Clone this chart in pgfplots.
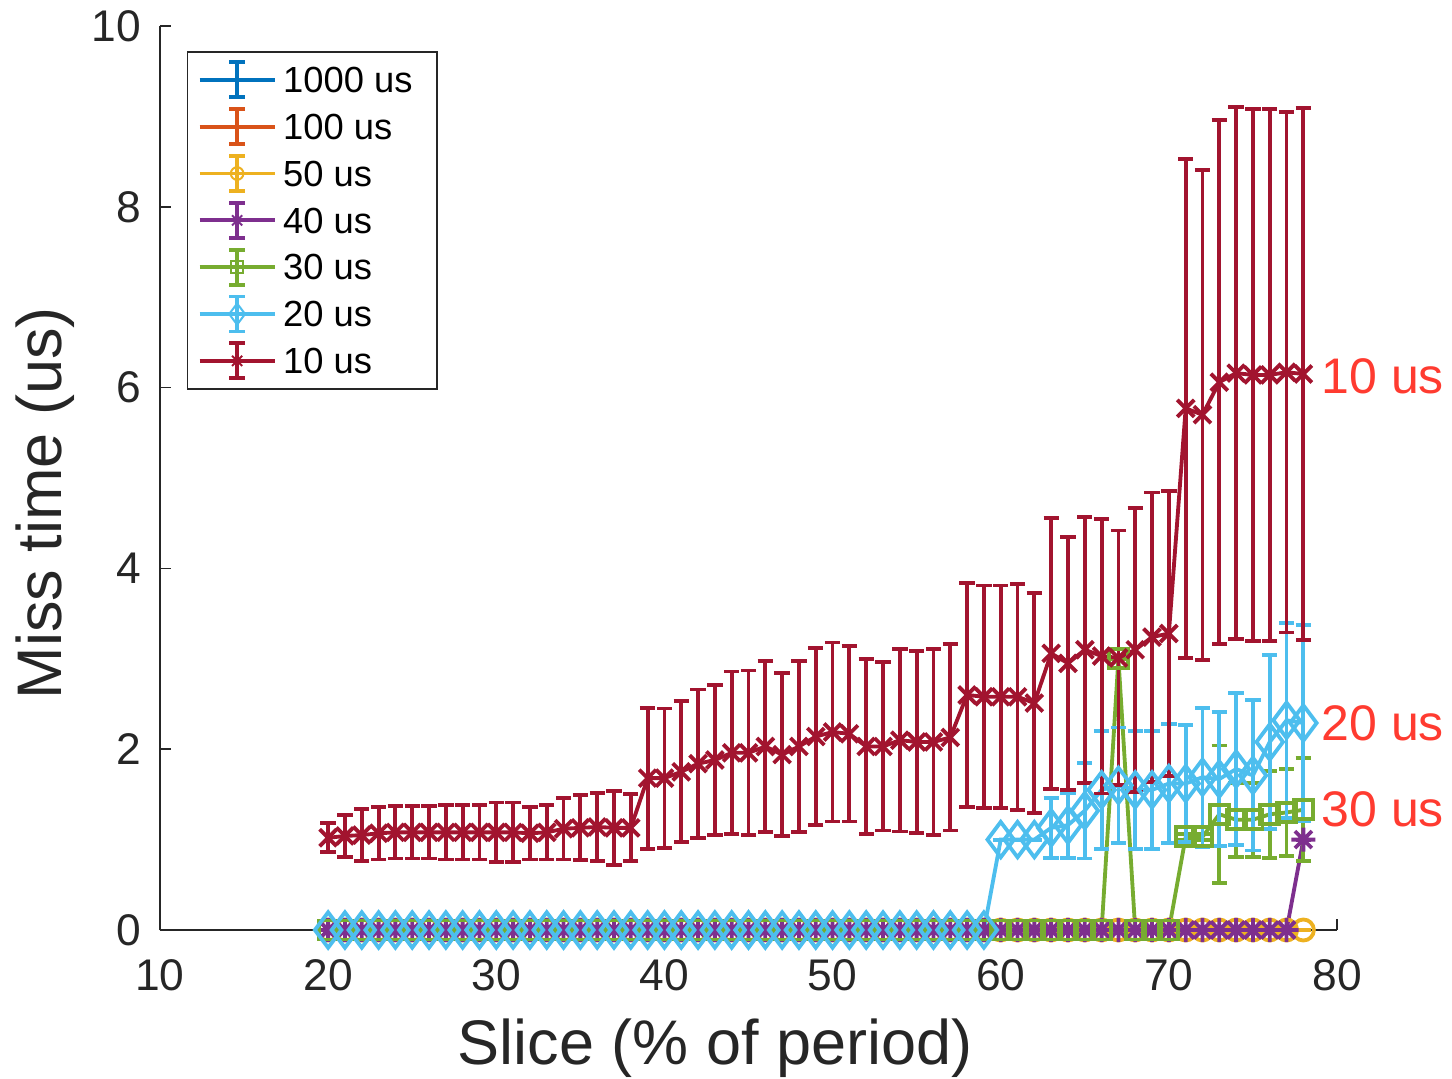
\documentclass[border=0pt]{standalone}
\usepackage{fontspec}
\setmainfont{Liberation Sans}
\usepackage{pgfplots}
\usepackage{pgfplotstable}
\pgfplotsset{compat=1.18}

\definecolor{c1}{rgb}{0,0.447,0.741}
\definecolor{c2}{rgb}{0.85,0.325,0.098}
\definecolor{c3}{rgb}{0.929,0.694,0.125}
\definecolor{c4}{rgb}{0.494,0.184,0.556}
\definecolor{c5}{rgb}{0.466,0.674,0.188}
\definecolor{c6}{rgb}{0.301,0.745,0.933}
\definecolor{c7}{rgb}{0.635,0.078,0.184}
\definecolor{axgray}{rgb}{0.15,0.15,0.15}
\definecolor{annot}{RGB}{255,59,48}

\pgfdeclareplotmark{mstar}{%
  \pgfpathmoveto{\pgfqpoint{-\pgfplotmarksize}{0pt}}\pgfpathlineto{\pgfqpoint{\pgfplotmarksize}{0pt}}%
  \pgfpathmoveto{\pgfqpoint{0pt}{-\pgfplotmarksize}}\pgfpathlineto{\pgfqpoint{0pt}{\pgfplotmarksize}}%
  \pgfpathmoveto{\pgfqpoint{-.7071\pgfplotmarksize}{-.7071\pgfplotmarksize}}\pgfpathlineto{\pgfqpoint{.7071\pgfplotmarksize}{.7071\pgfplotmarksize}}%
  \pgfpathmoveto{\pgfqpoint{-.7071\pgfplotmarksize}{.7071\pgfplotmarksize}}\pgfpathlineto{\pgfqpoint{.7071\pgfplotmarksize}{-.7071\pgfplotmarksize}}%
  \pgfusepathqstroke}

\pgfplotsset{
  eb/.style={line width=1.15pt,
    error bars/y dir=both, error bars/y explicit,
    error bars/error bar style={line width=1.15pt, solid},
    error bars/error mark options={rotate=90, mark size=2.3pt, line width=1.15pt}},
  ebleg/.style={legend image code/.code={
    \draw (0pt,0pt) -- (22.5pt,0pt);
    \draw (11.25pt,-5.25pt) -- (11.25pt,5.25pt);
    \draw (8.9pt,-5.25pt) -- (13.6pt,-5.25pt);
    \draw (8.9pt,5.25pt) -- (13.6pt,5.25pt);
    \draw[mark options={scale=0.6, line width=0.6pt}] plot coordinates {(11.25pt,0pt)};
  }}
}

\pgfplotstableread{
x y e
20 0 0
21 0 0
22 0 0
23 0 0
24 0 0
25 0 0
26 0 0
27 0 0
28 0 0
29 0 0
30 0 0
31 0 0
32 0 0
33 0 0
34 0 0
35 0 0
36 0 0
37 0 0
38 0 0
39 0 0
40 0 0
41 0 0
42 0 0
43 0 0
44 0 0
45 0 0
46 0 0
47 0 0
48 0 0
49 0 0
50 0 0
51 0 0
52 0 0
53 0 0
54 0 0
55 0 0
56 0 0
57 0 0
58 0 0
59 0 0
60 0 0
61 0 0
62 0 0
63 0 0
64 0 0
65 0 0
66 0 0
67 0 0
68 0 0
69 0 0
70 0 0
71 0 0
72 0 0
73 0 0
74 0 0
75 0 0
76 0 0
77 0 0
78 0 0
}\tzero

\pgfplotstableread{
x y e
20 0 0
21 0 0
22 0 0
23 0 0
24 0 0
25 0 0
26 0 0
27 0 0
28 0 0
29 0 0
30 0 0
31 0 0
32 0 0
33 0 0
34 0 0
35 0 0
36 0 0
37 0 0
38 0 0
39 0 0
40 0 0
41 0 0
42 0 0
43 0 0
44 0 0
45 0 0
46 0 0
47 0 0
48 0 0
49 0 0
50 0 0
51 0 0
52 0 0
53 0 0
54 0 0
55 0 0
56 0 0
57 0 0
58 0 0
59 0 0
60 0 0
61 0 0
62 0 0
63 0 0
64 0 0
65 0 0
66 0 0
67 0 0
68 0 0
69 0 0
70 0 0
71 0 0
72 0 0
73 0 0
74 0 0
75 0 0
76 0 0
77 0 0
78 1.0 0
}\tforty

\pgfplotstableread{
x y e
20 0 0
21 0 0
22 0 0
23 0 0
24 0 0
25 0 0
26 0 0
27 0 0
28 0 0
29 0 0
30 0 0
31 0 0
32 0 0
33 0 0
34 0 0
35 0 0
36 0 0
37 0 0
38 0 0
39 0 0
40 0 0
41 0 0
42 0 0
43 0 0
44 0 0
45 0 0
46 0 0
47 0 0
48 0 0
49 0 0
50 0 0
51 0 0
52 0 0
53 0 0
54 0 0
55 0 0
56 0 0
57 0 0
58 0 0
59 0 0
60 0 0
61 0 0
62 0 0
63 0 0
64 0 0
65 0 0
66 0 0
67 3.0 0
68 0 0
69 0 0
70 0 0
71 1.03 0.03
72 1.03 0.03
73 1.28 0.76
74 1.22 0.41
75 1.22 0.41
76 1.28 0.48
77 1.30 0.48
78 1.33 0.57
}\tthirty

\pgfplotstableread{
x y e
20 0 0
21 0 0
22 0 0
23 0 0
24 0 0
25 0 0
26 0 0
27 0 0
28 0 0
29 0 0
30 0 0
31 0 0
32 0 0
33 0 0
34 0 0
35 0 0
36 0 0
37 0 0
38 0 0
39 0 0
40 0 0
41 0 0
42 0 0
43 0 0
44 0 0
45 0 0
46 0 0
47 0 0
48 0 0
49 0 0
50 0 0
51 0 0
52 0 0
53 0 0
54 0 0
55 0 0
56 0 0
57 0 0
58 0 0
59 0 0
60 1.0 0
61 1.0 0
62 1.0 0
63 1.13 0.33
64 1.16 0.36
65 1.32 0.53
66 1.55 0.65
67 1.60 0.64
68 1.55 0.65
69 1.55 0.65
70 1.62 0.66
71 1.62 0.65
72 1.69 0.77
73 1.67 0.74
74 1.78 0.84
75 1.71 0.83
76 2.08 0.96
77 2.32 1.08
78 2.29 1.08
}\ttwenty

\pgfplotstableread{
x y e
20 1.02 0.16
21 1.04 0.23
22 1.05 0.29
23 1.07 0.29
24 1.08 0.29
25 1.08 0.29
26 1.08 0.29
27 1.08 0.30
28 1.08 0.30
29 1.08 0.30
30 1.08 0.33
31 1.08 0.33
32 1.07 0.29
33 1.08 0.30
34 1.12 0.34
35 1.13 0.36
36 1.14 0.38
37 1.13 0.41
38 1.13 0.37
39 1.68 0.78
40 1.68 0.77
41 1.75 0.78
42 1.84 0.82
43 1.88 0.83
44 1.96 0.90
45 1.96 0.91
46 2.03 0.95
47 1.94 0.90
48 2.03 0.95
49 2.14 0.98
50 2.19 0.99
51 2.17 0.97
52 2.03 0.97
53 2.03 0.93
54 2.10 1.01
55 2.08 1.01
56 2.08 1.03
57 2.13 1.03
58 2.60 1.24
59 2.58 1.23
60 2.58 1.23
61 2.58 1.25
62 2.51 1.22
63 3.06 1.50
64 2.95 1.40
65 3.10 1.47
66 3.03 1.52
67 3.01 1.41
68 3.10 1.57
69 3.24 1.60
70 3.28 1.58
71 5.77 2.76
72 5.70 2.71
73 6.06 2.90
74 6.16 2.94
75 6.14 2.94
76 6.14 2.94
77 6.17 2.88
78 6.15 2.94
}\tten

\begin{document}
\begin{tikzpicture}
\useasboundingbox (-48pt,-44.4pt) rectangle (387.6pt,279pt);
\begin{axis}[
  at={(0,0)}, anchor=south west,
  scale only axis, width=353.1pt, height=271.2pt,
  xmin=10, xmax=80, ymin=0, ymax=10,
  xtick={10,20,...,80}, ytick={0,2,...,10},
  axis lines*=left,
  axis line style={-, axgray, line width=0.45pt},
  tick align=inside, major tick length=3.3pt,
  tick style={axgray, line width=0.45pt},
  tick label style={font=\fontsize{13.3}{16}\selectfont, text=axgray, /pgf/number format/assume math mode=true},
  xticklabel shift=5.2pt,
  yticklabel shift=2.2pt,
  xlabel={Slice (\% of period)},
  ylabel={Miss time (us)},
  label style={font=\fontsize{18.9}{22}\selectfont, text=axgray},
  xlabel style={at={(axis description cs:0.4715,-0.1493)}, anchor=base},
  ylabel style={at={(axis description cs:-0.0833,0.472)}, anchor=base},
  clip=false,
  legend cell align=left,
  legend style={at={(axis description cs:0.0229,0.9723)}, anchor=north west,
    draw=axgray, line width=0.45pt, text=black,
    font=\fontsize{10.9}{12}\selectfont,
    nodes={inner sep=2pt, text depth=0pt},
    inner xsep=3pt, inner ysep=2.6pt, row sep=2.4pt},
]
\addplot[c1, no markers, eb, ebleg] table[x=x, y=y, y error=e] {\tzero};
\addlegendentry{1000 us\hspace*{2.4pt}}
\addplot[c2, no markers, eb, ebleg] table[x=x, y=y, y error=e] {\tzero};
\addlegendentry{100 us}
\addplot[c3, mark=o, mark size=3.15pt, eb, ebleg] table[x=x, y=y, y error=e] {\tzero};
\addlegendentry{50 us}
\addplot[c4, mark=mstar, mark size=3.6pt, eb, ebleg] table[x=x, y=y, y error=e] {\tforty};
\addlegendentry{40 us}
\addplot[c5, mark=square, mark size=2.85pt, eb, ebleg] table[x=x, y=y, y error=e] {\tthirty};
\addlegendentry{30 us}
\addplot[c6, mark=diamond, mark size=5.3pt, eb, ebleg] table[x=x, y=y, y error=e] {\ttwenty};
\addlegendentry{20 us}
\addplot[c7, mark=x, mark size=3.6pt, eb, ebleg] table[x=x, y=y, y error=e] {\tten};
\addlegendentry{10 us}
\node[anchor=west, inner sep=0pt, text=annot, font=\fontsize{15}{17}\selectfont] at (axis cs:79.05,6.12) {10 us};
\node[anchor=west, inner sep=0pt, text=annot, font=\fontsize{15}{17}\selectfont] at (axis cs:79.05,2.29) {20 us};
\node[anchor=west, inner sep=0pt, text=annot, font=\fontsize{15}{17}\selectfont] at (axis cs:79.05,1.33) {30 us};
\end{axis}
\end{tikzpicture}
\end{document}
